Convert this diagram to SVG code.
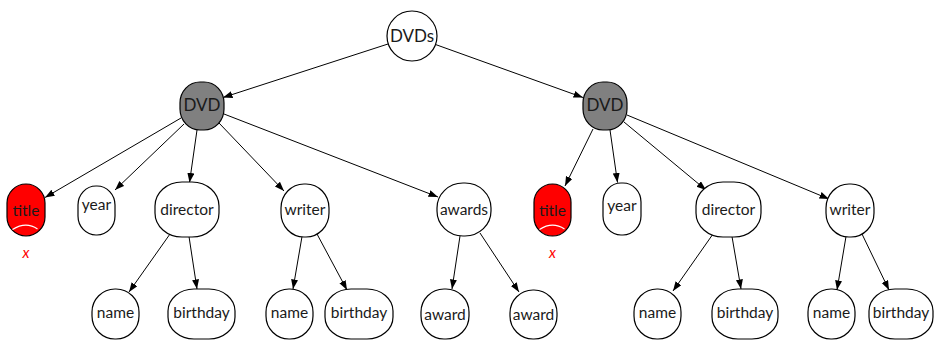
<svg xmlns="http://www.w3.org/2000/svg" width="934" height="340" viewBox="0 0 934 340">
  <defs>
    <marker id="arrow" markerUnits="userSpaceOnUse" markerWidth="10" markerHeight="8" refX="9.5" refY="3.5" orient="auto">
      <path d="M0,0 L9.5,3.5 L0,7 Z" fill="#000"/>
    </marker>
    <style>
      .node { fill: #fff; stroke: #000; stroke-width: 1.2; }
      .dark { fill: #808080; }
      .red { fill: #ff0000; }
      .label { font-family: Lato, "DejaVu Sans", sans-serif; font-size: 15.5px; fill: #1a1a1a; text-anchor: middle; }
      .big { font-size: 17px; }
      .edge { stroke: #000; stroke-width: 1; fill: none; marker-end: url(#arrow); }
      .mark { font-family: Lato, "DejaVu Sans", sans-serif; font-style: italic; font-size: 15px; fill: #ff0000; text-anchor: middle; }
      .cut { stroke: #fff; stroke-width: 1.2; fill: none; }
    </style>
  </defs>

  <g id="edges">
    <line class="edge" x1="388.3" y1="43.9" x2="223" y2="97.5"/>
    <line class="edge" x1="435.5" y1="44.5" x2="583" y2="97.5"/>
    <line class="edge" x1="181" y1="118" x2="45" y2="197.5"/>
    <line class="edge" x1="184" y1="124" x2="115" y2="190"/>
    <line class="edge" x1="197" y1="130" x2="189.5" y2="182.5"/>
    <line class="edge" x1="219" y1="123" x2="284" y2="191"/>
    <line class="edge" x1="224" y1="114" x2="438" y2="197"/>
    <line class="edge" x1="593" y1="129" x2="565" y2="186"/>
    <line class="edge" x1="610" y1="130" x2="617.5" y2="182.5"/>
    <line class="edge" x1="624" y1="122" x2="706" y2="190"/>
    <line class="edge" x1="627" y1="115" x2="829" y2="199"/>
    <line class="edge" x1="170" y1="234" x2="129" y2="292"/>
    <line class="edge" x1="189" y1="236.5" x2="197" y2="289"/>
    <line class="edge" x1="302" y1="236.5" x2="293" y2="289"/>
    <line class="edge" x1="317" y1="234" x2="347" y2="290"/>
    <line class="edge" x1="460" y1="236" x2="452" y2="289"/>
    <line class="edge" x1="480" y1="233" x2="519" y2="292"/>
    <line class="edge" x1="713" y1="234" x2="673" y2="291"/>
    <line class="edge" x1="732" y1="236.5" x2="741" y2="289"/>
    <line class="edge" x1="846" y1="236.5" x2="837" y2="290"/>
    <line class="edge" x1="862" y1="234" x2="889" y2="290"/>
  </g>

  <!-- root -->
  <g id="dvds">
    <circle class="node" cx="412" cy="36" r="25"/>
    <text class="label big" x="412" y="41.5">DVDs</text>
  </g>

  <!-- left DVD subtree -->
  <g id="dvd-left">
    <rect class="node dark" x="180" y="82" width="44" height="48" rx="20" ry="21"/>
    <text class="label big" x="202" y="111">DVD</text>
  </g>
  <g id="title-left">
    <rect class="node red" x="7" y="184" width="38" height="52" rx="19" ry="19"/>
    <path class="cut" d="M12.5,229.5 Q26,221 37.5,229"/>
    <text class="label" x="26" y="215.5">title</text>
    <text class="mark" x="26" y="258">x</text>
  </g>
  <g id="year-left">
    <rect class="node" x="78" y="186" width="37" height="49" rx="18" ry="19"/>
    <text class="label" x="96.5" y="210">year</text>
  </g>
  <g id="director-left">
    <rect class="node" x="155" y="182" width="64" height="55" rx="27" ry="24"/>
    <text class="label" x="187" y="215">director</text>
  </g>
  <g id="writer-left">
    <rect class="node" x="281" y="184" width="48" height="53" rx="23" ry="24"/>
    <text class="label" x="305" y="215">writer</text>
  </g>
  <g id="awards">
    <rect class="node" x="437" y="183" width="54" height="53" rx="26" ry="25"/>
    <text class="label" x="464" y="215">awards</text>
  </g>
  <g id="name-left-1">
    <rect class="node" x="92" y="289" width="47" height="50" rx="23" ry="23"/>
    <text class="label" x="115.5" y="318">name</text>
  </g>
  <g id="birthday-left-1">
    <rect class="node" x="168" y="289" width="67" height="50" rx="26" ry="22"/>
    <text class="label" x="201.5" y="318">birthday</text>
  </g>
  <g id="name-left-2">
    <rect class="node" x="266" y="289" width="47" height="50" rx="23" ry="23"/>
    <text class="label" x="289.5" y="318">name</text>
  </g>
  <g id="birthday-left-2">
    <rect class="node" x="325" y="289" width="68" height="50" rx="26" ry="22"/>
    <text class="label" x="359" y="318">birthday</text>
  </g>
  <g id="award-1">
    <rect class="node" x="421" y="289" width="48" height="50" rx="23" ry="23"/>
    <text class="label" x="445" y="320">award</text>
  </g>
  <g id="award-2">
    <rect class="node" x="510" y="290" width="47" height="49" rx="23" ry="23"/>
    <text class="label" x="533.5" y="320">award</text>
  </g>

  <!-- right DVD subtree -->
  <g id="dvd-right">
    <rect class="node dark" x="583" y="82" width="44" height="48" rx="20" ry="21"/>
    <text class="label big" x="605" y="111">DVD</text>
  </g>
  <g id="title-right">
    <rect class="node red" x="534" y="184" width="37" height="52" rx="18.5" ry="18.5"/>
    <path class="cut" d="M539.5,229.5 Q552.5,221 564.5,229"/>
    <text class="label" x="552.5" y="215.5">title</text>
    <text class="mark" x="552.5" y="258">x</text>
  </g>
  <g id="year-right">
    <rect class="node" x="603" y="183" width="38" height="52" rx="18" ry="19"/>
    <text class="label" x="622" y="210.5">year</text>
  </g>
  <g id="director-right">
    <rect class="node" x="696" y="182" width="65" height="55" rx="27" ry="24"/>
    <text class="label" x="728.5" y="215">director</text>
  </g>
  <g id="writer-right">
    <rect class="node" x="826" y="184" width="48" height="53" rx="23" ry="24"/>
    <text class="label" x="850" y="215">writer</text>
  </g>
  <g id="name-right-1">
    <rect class="node" x="634" y="289" width="47" height="50" rx="23" ry="23"/>
    <text class="label" x="657.5" y="318">name</text>
  </g>
  <g id="birthday-right-1">
    <rect class="node" x="712" y="289" width="66" height="50" rx="26" ry="22"/>
    <text class="label" x="745" y="318">birthday</text>
  </g>
  <g id="name-right-2">
    <rect class="node" x="808" y="289" width="47" height="50" rx="23" ry="23"/>
    <text class="label" x="831.5" y="318">name</text>
  </g>
  <g id="birthday-right-2">
    <rect class="node" x="869" y="289" width="64" height="50" rx="26" ry="22"/>
    <text class="label" x="901" y="318">birthday</text>
  </g>
</svg>
